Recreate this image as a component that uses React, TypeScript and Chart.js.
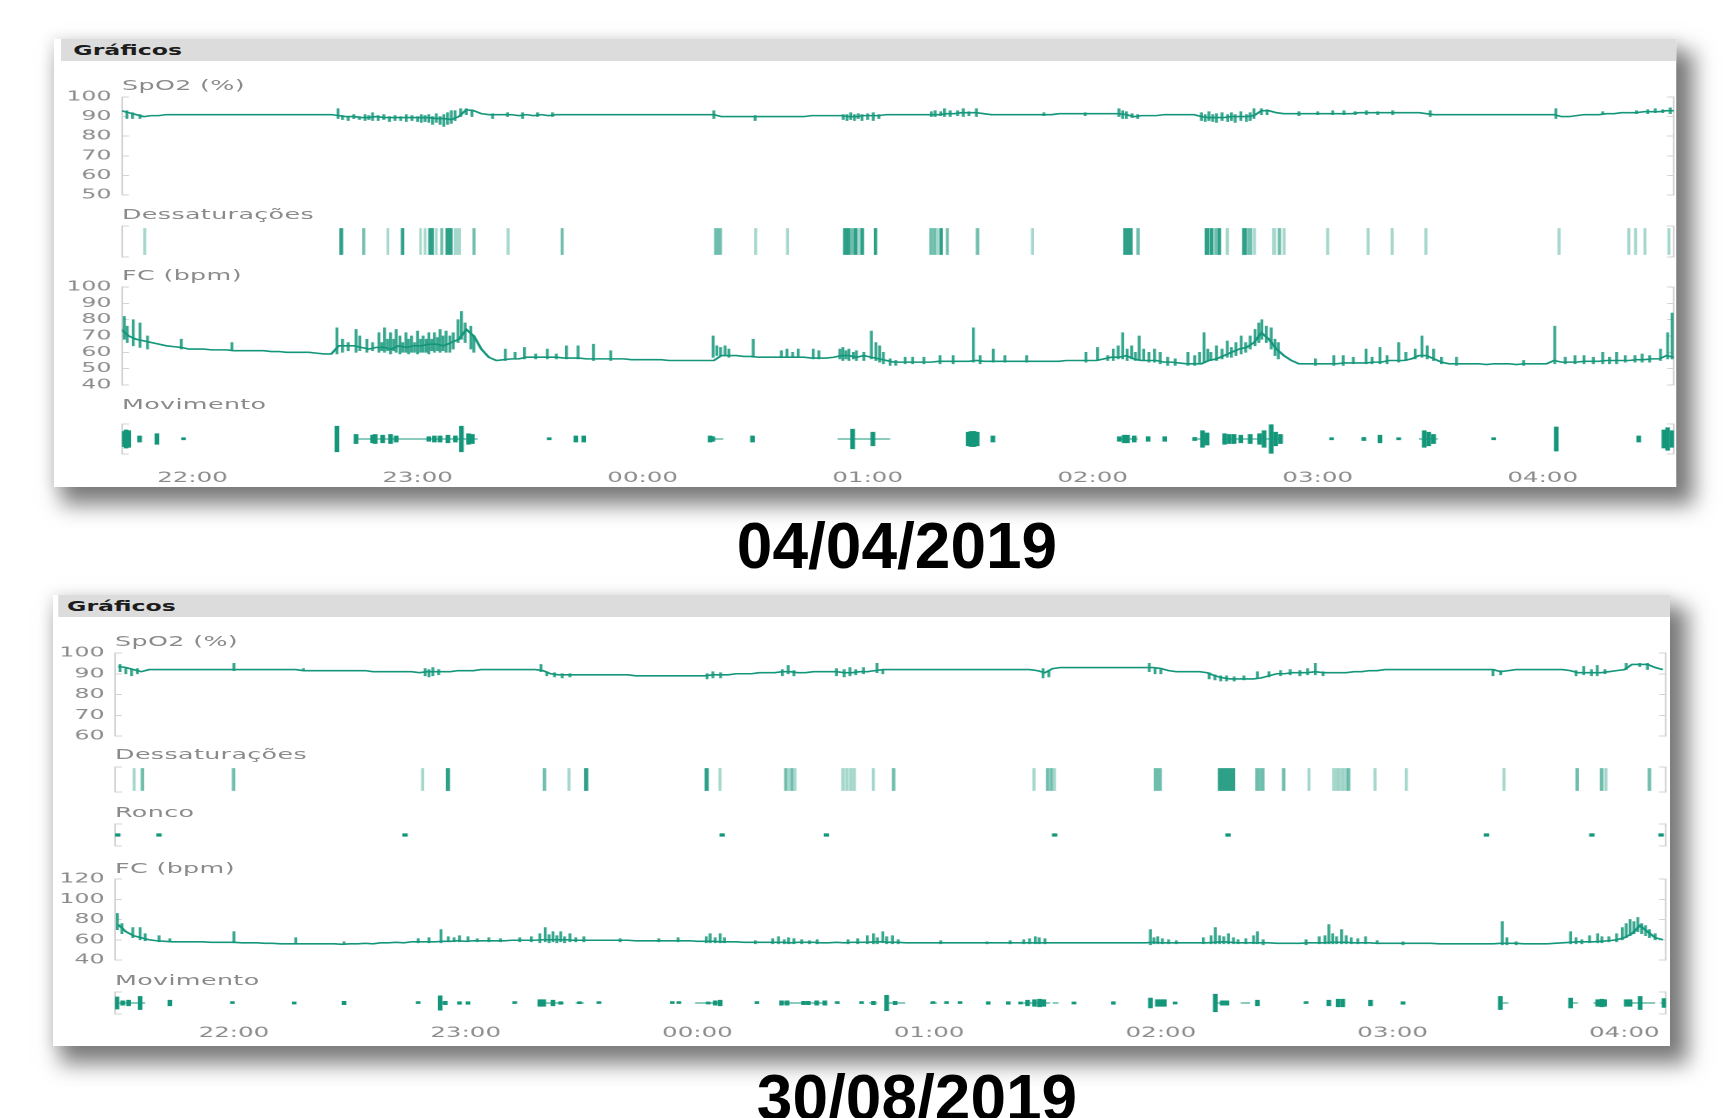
import React, { useEffect, useRef } from "react";
import { Chart, registerables } from "chart.js";

Chart.register(...registerables);

// ---------------- DATA (time = minutes after 21:00) ----------------
const TICK_MIN = [60, 120, 180, 240, 300, 360, 420];
const TICK_LABELS = ["22:00", "23:00", "00:00", "01:00", "02:00", "03:00", "04:00"];

// ===== Night 1 — 04/04/2019 =====
const N1_RANGE = [41.2, 455];
const N1_SAMPLE_T0 = 41;
const N1_SAMPLE_STEP = 2;
// baseline trace, one value every 2 min
const N1_SPO2 = [
  93, 92, 91, 90, 90.5, 90.5, 91, 91, 91, 91,
  91, 91, 91, 91, 91, 91, 91, 91, 91, 91,
  91, 91, 91, 91, 91, 91, 91, 91, 91, 90.5,
  90, 90, 89.5, 89.5, 90, 89.5, 89.5, 89.5, 89.5, 89.5,
  89.5, 89.5, 89, 89, 88.5, 90, 93.5, 93, 91.5, 91,
  91, 91, 91, 90.5, 91, 90.5, 91, 90.5, 91, 91,
  91, 91, 91, 91, 91, 91, 91, 91, 91, 91,
  91, 91, 91, 91, 91, 91, 91, 91, 91, 91,
  90, 90, 90, 90, 90, 90, 90, 90, 90, 90,
  90, 90, 90.5, 90.5, 90.5, 90.5, 90.5, 90, 90, 90.5,
  90.5, 90.5, 91, 91, 91, 91, 91, 91, 91, 91,
  91.5, 91.5, 92, 92, 92, 91.5, 91, 91, 91, 91,
  91, 91, 91, 91, 91, 91.5, 91.5, 91.5, 91.5, 91.5,
  91.5, 91.5, 91.5, 91.5, 91, 90, 90.5, 90.5, 90.5, 91,
  91, 91, 91, 91, 90, 89.5, 89.5, 89.5, 90, 90,
  90, 90.5, 93, 93, 92, 91.5, 91.5, 91.5, 91.5, 91.5,
  91.5, 91.5, 91.5, 91.5, 91.5, 92, 92, 92, 92, 92,
  92, 92, 92, 92, 91.5, 91, 91, 91, 91, 91,
  91, 91, 91, 91, 91, 91, 91, 91, 91, 91,
  91, 91, 90, 90, 90.5, 91, 91, 91, 91.5, 91.5,
  92, 92, 92, 92.5, 92.5, 92.5, 93, 93,
];
// short excursions of the trace: [minute, low, high]
const N1_SPO2_SPIKES = [
  [42.5, 89, 93], [44.0, 89, 92], [46.0, 89, 91],
  [98.8, 89, 94], [100.0, 88.5, 90.5], [101.5, 88, 90], [103.0, 89, 91], [104.5, 88.5, 90], [106.0, 88, 91],
  [107.0, 88.5, 90.5], [108.0, 88, 92], [109.5, 88, 90.5], [111.0, 88.5, 91], [112.5, 87.5, 90], [114.0, 88, 90.5],
  [115.5, 88, 90], [117.0, 87.5, 91], [118.5, 88, 90.5], [120.0, 87.5, 90], [121.0, 87, 91], [122.0, 87.5, 90.5],
  [123.0, 87, 91], [124.0, 86, 90], [125.0, 87, 91.5], [126.0, 86, 90], [127.0, 85, 91], [128.0, 86, 92],
  [129.0, 86.5, 93], [130.0, 88, 93], [131.5, 90, 94], [133.0, 91, 94], [134.5, 90, 93.5],
  [140.0, 89, 91.5], [144.0, 90, 92], [148.0, 89, 92], [152.0, 90, 92], [156.0, 90, 92],
  [199.0, 89, 93], [210.0, 88, 90.5],
  [233.5, 88.5, 91], [234.5, 88, 91], [235.5, 88.5, 92], [236.5, 88, 91], [237.5, 89, 91.5], [238.5, 88, 91],
  [240.0, 88.5, 91.5], [241.5, 88, 92], [243.0, 89, 91],
  [257.0, 90, 92.5], [258.0, 90, 93], [259.5, 90.5, 92.5], [260.5, 90, 94], [262.0, 90, 93], [264.0, 90.5, 93],
  [265.5, 90, 94], [267.0, 90.5, 92.5], [269.0, 90, 94], [287.0, 90.5, 92], [298.0, 90.5, 92],
  [307.0, 90, 94], [308.0, 89, 93], [309.0, 89, 92.5], [310.5, 89.5, 91.5], [312.0, 89, 91],
  [329.0, 88, 92], [330.0, 87.5, 91], [331.0, 88, 92.5], [332.0, 87.5, 91], [333.0, 87, 91.5], [334.5, 88, 92],
  [336.0, 87.5, 91], [337.0, 88, 92], [338.0, 87, 91], [339.5, 88, 92.5], [341.0, 87.5, 91], [342.0, 88, 92],
  [343.0, 89, 94], [345.0, 91, 94], [346.5, 91, 93.5],
  [355.0, 90.5, 92.5], [360.0, 91, 92.5], [364.0, 91, 93], [367.0, 91, 93], [370.0, 91, 92.5], [373.0, 91, 93],
  [376.0, 91, 92.5], [380.0, 91, 93], [390.0, 90, 93],
  [423.5, 89, 94], [436.0, 91, 92.5], [445.0, 91.5, 93], [448.0, 91.5, 93.5], [450.0, 92, 94], [452.0, 92, 93.5], [454.0, 91.5, 94.5],
];
const N1_FC = [
  74, 70, 68, 67, 66, 65, 64, 63.5, 63, 62,
  62, 62, 61.5, 61.5, 61.5, 61, 61, 61, 61, 61,
  60.5, 60.5, 60, 60, 60, 60, 59.5, 59, 59, 64,
  64, 64, 63, 62, 63, 63, 62, 64, 63, 64,
  64, 65, 65, 64, 66, 68, 74, 70, 62, 57,
  55, 55.5, 56, 56, 57, 57, 57, 57, 57, 56.5,
  56.5, 56.5, 56, 56, 56, 56, 56, 56, 55.5, 55.5,
  55.5, 55.5, 55.5, 55, 55, 55, 55, 55, 55, 55,
  58, 58, 58, 57.5, 57.5, 57, 57, 57, 57, 57,
  57, 57, 56.5, 56.5, 56.5, 57, 58, 58, 57, 58,
  57, 56, 55, 54, 54, 54, 54, 54, 54, 54.5,
  54.5, 54.5, 54.5, 54.5, 55, 54.5, 54.5, 54.5, 54.5, 54.5,
  54.5, 54.5, 54.5, 54.5, 54.5, 54.5, 55, 55, 55, 55,
  55, 56, 57, 57, 58, 56, 55, 55, 55, 54,
  54, 53.5, 53, 53, 53, 55, 56, 58, 60, 62,
  63, 66, 72, 68, 62, 58, 55, 53, 53, 53,
  53, 53, 53, 53.5, 53.5, 53.5, 53.5, 54, 54, 55,
  55, 55, 56, 58, 58, 56, 54, 53, 53, 53,
  53, 53, 52.5, 53, 53, 53, 52.5, 53, 53, 53,
  53, 55, 54, 54, 54, 54.5, 54.5, 54.5, 55, 55,
  55, 55, 55.5, 55.5, 56, 56, 58, 57,
];
const N1_FC_SPIKES = [
  [41.8, 68, 82], [42.6, 66, 76], [44.2, 64, 80], [46.0, 63, 78], [48.0, 62, 70], [57.0, 62, 68], [70.5, 61, 66],
  [98.5, 59, 75], [100.0, 60, 68], [101.5, 61, 66], [103.6, 60, 74], [104.6, 61, 70], [106.5, 60, 68], [108.0, 61, 66],
  [109.7, 60, 72], [110.5, 61, 66], [111.2, 60, 75], [112.0, 61, 68], [112.8, 59, 72], [113.6, 61, 68], [114.3, 60, 74],
  [115.3, 59, 70], [116.1, 60, 66], [116.9, 60, 72], [117.6, 59, 68], [118.4, 60, 70], [119.2, 60, 66], [120.0, 59, 73],
  [120.8, 60, 68], [121.5, 60, 70], [122.3, 60, 68], [123.0, 59, 72], [123.8, 61, 68], [124.5, 60, 72], [125.3, 61, 69],
  [126.0, 60, 74], [126.8, 61, 70], [127.6, 60, 73], [128.6, 60, 70], [129.5, 62, 72], [130.8, 66, 80], [131.7, 68, 85],
  [132.7, 66, 78], [134.2, 62, 76], [135.0, 60, 70],
  [143.4, 55, 62], [146.0, 56, 60], [148.5, 56, 63], [151.5, 56, 59], [154.6, 56, 62], [157.0, 56, 59], [159.7, 56, 64],
  [162.8, 56, 64], [166.9, 55, 65], [171.5, 55, 61],
  [198.8, 57, 70], [199.8, 58, 64], [200.8, 58, 63], [202.0, 58, 64], [203.0, 57, 62], [209.5, 57, 68], [217.0, 57, 61],
  [218.5, 57, 62], [220.0, 57, 60], [221.5, 57, 62], [225.5, 56, 62], [227.0, 56, 61], [232.6, 56, 62], [233.4, 55, 63],
  [234.2, 56, 61], [235.0, 55, 62], [236.2, 56, 60], [237.0, 55, 61], [239.0, 55, 60], [241.0, 56, 73], [242.2, 55, 66],
  [243.2, 54, 64], [244.2, 53, 60], [246.0, 52, 56], [247.5, 52, 55], [250.0, 53, 57], [252.0, 53, 57], [255.0, 53, 57],
  [259.3, 53, 58], [262.8, 53, 58], [268.2, 54, 75], [270.0, 53, 58], [273.5, 54, 62], [276.6, 54, 58], [282.4, 54, 58],
  [298.2, 54, 60], [301.3, 55, 63], [304.0, 55, 58], [305.5, 55, 62], [306.8, 56, 64], [308.0, 56, 72], [309.2, 55, 62],
  [310.4, 56, 64], [311.4, 55, 60], [312.4, 55, 70], [313.6, 55, 62], [315.0, 54, 60], [316.5, 54, 62], [318.0, 53, 60],
  [320.0, 52, 57], [322.0, 52, 56], [325.4, 52, 60], [327.2, 52, 58], [328.5, 53, 60], [329.7, 54, 72], [330.7, 55, 62],
  [331.5, 55, 60], [333.0, 55, 64], [334.5, 56, 62], [335.9, 57, 67], [337.0, 57, 63], [338.2, 58, 66], [339.6, 59, 70],
  [340.8, 60, 66], [342.0, 62, 70], [343.3, 64, 74], [344.3, 66, 78], [345.1, 68, 80], [346.3, 66, 76], [347.6, 62, 75],
  [348.6, 58, 68], [349.5, 56, 66], [359.4, 52, 56], [364.3, 52, 58], [366.8, 52, 58], [369.5, 53, 57], [372.9, 53, 62],
  [374.5, 53, 57], [376.6, 53, 63], [378.5, 53, 58], [381.6, 54, 66], [383.5, 55, 60], [386.0, 56, 62], [387.8, 57, 70],
  [389.2, 56, 64], [390.9, 55, 62], [393.0, 53, 57], [397.0, 52, 57], [414.9, 52, 55], [423.2, 53, 76], [426.0, 53, 57],
  [428.6, 53, 58], [431.0, 53, 58], [433.5, 53, 57], [436.0, 53, 60], [437.8, 53, 57], [439.7, 53, 60], [442.0, 54, 58],
  [444.6, 54, 58], [446.5, 54, 59], [448.5, 54, 58], [451.4, 55, 62], [453.3, 56, 72], [454.5, 56, 84],
];
const N1_DESAT_START = [
  47.0, 99.3, 105.4, 111.9, 115.7, 120.6, 121.8, 123.0, 124.8, 126.2, 127.6, 129.8, 134.8, 143.9, 158.3,
  199.2, 209.9, 218.4, 233.6, 234.6, 235.5, 236.4, 237.4, 238.2, 241.8, 256.6, 257.5, 258.4, 259.3, 261.0,
  269.0, 283.7, 308.3, 311.8, 330.0, 331.4, 332.6, 333.5, 335.6, 340.0, 341.4, 342.9, 348.0, 349.5, 350.8,
  362.4, 373.2, 379.6, 388.6, 424.1, 442.7, 444.5, 447.0, 453.4,
];
const N1_DESAT_DUR = [
  0.5, 0.7, 0.5, 0.4, 0.6, 0.4, 0.4, 1.2, 0.4, 0.5, 1.6, 1.6, 0.5, 0.5, 0.5,
  1.8, 0.5, 0.5, 0.8, 0.6, 0.6, 0.7, 0.5, 0.7, 0.6, 0.6, 0.6, 0.5, 0.6, 0.5,
  0.6, 0.5, 2.2, 0.6, 1.0, 0.7, 0.6, 0.6, 0.6, 1.0, 1.0, 0.5, 0.8, 0.6, 0.5,
  0.5, 0.5, 0.5, 0.5, 0.5, 0.5, 0.5, 0.5, 0.5,
];
const N1_DESAT_DEPTH = [
  1, 3, 2, 1, 3, 1, 1, 3, 1, 2, 3, 1, 2, 1, 2,
  2, 1, 1, 3, 3, 2, 3, 1, 3, 3, 2, 2, 1, 3, 2,
  2, 1, 3, 2, 3, 3, 2, 3, 1, 3, 2, 1, 1, 2, 1,
  1, 1, 1, 1, 1, 1, 1, 1, 1,
];
const N1_MOV_T = [
  41.6, 42.3, 43.0, 45.9, 50.5, 57.6, 98.5, 103.6, 108.0, 108.7, 110.7, 112.8, 114.3,
  123.0, 124.5, 126.0, 128.1, 130.1, 131.7, 133.6, 134.6, 155.1, 162.2, 164.3,
  198.0, 198.7, 209.3, 236.0, 241.4, 266.8, 267.6, 268.4, 269.2, 273.4,
  307.1, 308.4, 309.3, 311.1, 314.8, 319.2, 327.2, 329.3, 330.5,
  335.2, 336.4, 337.7, 339.5, 342.0, 344.5, 345.7, 347.6, 348.8, 350.1,
  363.7, 372.3, 376.6, 381.6, 388.4, 389.6, 390.9, 406.9, 423.6, 445.6, 452.3, 453.3, 454.5,
];
const N1_MOV_A = [
  0.5, 0.6, 0.55, 0.2, 0.35, 0.05, 0.85, 0.3, 0.25, 0.3, 0.25, 0.3, 0.2,
  0.15, 0.2, 0.2, 0.25, 0.2, 0.85, 0.35, 0.3, 0.05, 0.2, 0.2,
  0.2, 0.15, 0.2, 0.65, 0.45, 0.45, 0.5, 0.5, 0.45, 0.2,
  0.15, 0.25, 0.25, 0.2, 0.15, 0.15, 0.1, 0.55, 0.4,
  0.35, 0.3, 0.3, 0.25, 0.3, 0.35, 0.55, 0.95, 0.45, 0.3,
  0.05, 0.1, 0.25, 0.05, 0.55, 0.45, 0.3, 0.05, 0.8, 0.2, 0.6, 0.75, 0.55,
];
const N1_MOV_LINK_FROM = [103.5, 198.0, 232.0, 307.0, 327.2, 334.6, 387.0];
const N1_MOV_LINK_TO = [136.0, 201.5, 246.0, 312.0, 331.0, 350.1, 392.0];

// ===== Night 2 — 30/08/2019 =====
const N2_RANGE = [29.2, 430.8];
const N2_SAMPLE_T0 = 30;
const N2_SAMPLE_STEP = 2;
const N2_SPO2 = [
  93.5, 93, 92, 91, 92, 92, 92, 92, 92, 92,
  92, 92, 92, 92, 92, 92, 92, 92, 92, 92,
  92, 92, 92, 92, 91.5, 91.5, 91.5, 91.5, 91.5, 91.5,
  91.5, 91.5, 91.5, 91, 91, 91, 91, 91, 91, 90.5,
  91, 91, 91, 91, 91.5, 91.5, 91.5, 92, 92, 92,
  92, 92, 92, 92, 92, 91.5, 90, 89.5, 89.5, 89.5,
  89.5, 89.5, 89.5, 89.5, 89.5, 89.5, 89.5, 89, 89, 89,
  89, 89, 89, 89, 89, 89, 89, 89.5, 89.5, 89.5,
  90, 90, 90, 90.5, 90.5, 90.5, 91, 91, 90.5, 90.5,
  91, 91, 91, 91, 90.5, 90.5, 91, 91, 91.5, 92,
  92, 92, 92, 92, 92, 92, 92, 92, 92, 92,
  92, 92, 92, 92, 92, 92, 92, 92, 92, 91.5,
  90.5, 92.5, 93, 93, 93, 93, 93, 93, 93, 93,
  93, 93, 93, 93, 93, 92.5, 91.5, 91, 91, 91,
  91, 90.5, 89, 88, 87.5, 87.5, 87.5, 87.5, 88, 89,
  90, 90, 90.5, 90.5, 90.5, 91, 90.5, 90.5, 90.5, 90.5,
  91, 91, 91.5, 91.5, 92, 92, 92, 92, 92, 92,
  92, 92, 92, 92, 92, 92, 92, 92, 92, 91,
  91.5, 92, 92, 92, 92, 92, 92, 92, 91.5, 90.5,
  90.5, 90.5, 90.5, 91, 91.5, 92, 94.5, 94.5, 94.5, 93,
  92,
];
const N2_SPO2_SPIKES = [
  [30.5, 91, 94.5], [32.0, 90, 93], [33.5, 89, 92], [35.0, 90, 92.5], [60.0, 91.5, 95], [78.0, 91.5, 92.5],
  [109.5, 89, 92.5], [110.5, 88.5, 92], [111.5, 89, 93], [113.0, 89.5, 92],
  [139.5, 91, 94.5], [141.0, 89, 91], [143.0, 88.5, 90.5], [145.0, 88, 90], [147.0, 88.5, 90],
  [182.5, 87.5, 90], [184.0, 88, 91], [186.0, 88, 90.5], [202.0, 89, 92], [203.5, 90, 94], [205.0, 89, 91.5],
  [216.0, 89, 92.5], [218.0, 88.5, 92], [219.5, 89, 93], [221.0, 89.5, 92], [223.0, 90, 93], [226.5, 90.5, 95], [228.0, 90, 92],
  [269.5, 88, 92.5], [271.0, 88.5, 91.5], [297.0, 91, 95], [298.5, 90, 92.5], [300.0, 90, 92],
  [312.5, 87.5, 90.5], [314.0, 87, 89.5], [315.5, 86.5, 89], [317.0, 86.5, 89], [319.0, 86.5, 88.5], [321.5, 87, 89],
  [325.0, 88, 91], [328.0, 88.5, 91], [331.0, 89, 91.5], [333.5, 89.5, 92], [336.0, 89, 91.5], [338.0, 89.5, 92.5],
  [340.0, 89.5, 95], [342.0, 89, 91], [386.0, 89, 91.5], [388.0, 89.5, 91.5],
  [407.5, 89, 91.5], [409.5, 89.5, 93.5], [411.5, 89, 92], [413.0, 89, 94], [415.0, 90, 92],
  [420.5, 92, 95], [424.0, 93.5, 95], [426.0, 92, 95],
];
const N2_FC = [
  75, 68, 64, 62, 60, 59, 58.5, 58, 58, 58,
  58, 58, 57.5, 57.5, 57.5, 57.5, 57, 57, 57, 56.5,
  56.5, 56, 56, 56, 56, 56, 56, 56, 56, 55.5,
  56, 56, 56.5, 56, 57, 57, 57.5, 57, 58, 58,
  58, 58, 58.5, 58.5, 59, 58.5, 59, 59, 59, 59,
  59, 59.5, 59.5, 59.5, 59.5, 60, 60, 60, 60, 59.5,
  59.5, 59.5, 59.5, 59.5, 59.5, 59.5, 59.5, 59, 59, 59,
  59, 59, 59, 59, 59, 58.5, 58.5, 58.5, 58, 58,
  58, 57.5, 57.5, 57.5, 57.5, 57.5, 57.5, 57, 57.5, 57.5,
  57.5, 57, 57, 57.5, 57, 57.5, 57.5, 57.5, 58, 58,
  57.5, 57.5, 57, 57, 57, 57, 57, 57, 57, 57,
  57, 57, 57, 57, 57, 57, 57, 57, 57, 57,
  57, 57, 57, 57, 57, 57, 57, 57, 57, 57,
  57, 57, 57, 57, 57.5, 57, 57, 57, 57, 57,
  57, 57, 57.5, 58, 57.5, 57, 57, 57, 57, 57,
  56.5, 56.5, 56.5, 56.5, 57, 57, 57, 57.5, 57.5, 57.5,
  57, 57, 57, 56.5, 56.5, 56.5, 56.5, 56.5, 56.5, 56.5,
  56.5, 56, 56, 56, 56, 56, 56, 56, 56, 56.5,
  56.5, 56.5, 56, 56, 56, 56, 56.5, 57, 57.5, 58,
  58, 58, 58.5, 59, 60, 62, 66, 74, 68, 62,
  60,
];
const N2_FC_SPIKES = [
  [29.8, 70, 86], [31.0, 66, 76], [33.8, 62, 72], [35.7, 60, 72], [37.0, 59, 66], [40.6, 58, 64], [43.4, 58, 61],
  [60.0, 57, 68], [76.0, 56, 62], [88.5, 56, 58],
  [107.7, 57, 61], [110.5, 57, 62], [113.6, 57, 70], [115.5, 58, 63], [117.0, 58, 62], [118.4, 58, 64], [120.6, 58, 63],
  [123.0, 58, 61], [126.0, 58, 62], [129.0, 58, 61], [134.0, 58, 62], [137.0, 58, 63], [139.2, 57, 66], [140.6, 58, 72],
  [141.6, 57, 65], [142.6, 58, 68], [143.6, 57, 64], [144.6, 58, 68], [145.6, 57, 63], [147.0, 58, 66], [148.5, 58, 62],
  [150.6, 58, 63], [160.0, 58, 61], [170.0, 58, 61], [175.0, 58, 62],
  [182.3, 57, 63], [183.3, 57, 66], [184.6, 57, 62], [185.9, 57, 66], [187.0, 57, 62],
  [195.0, 56, 59], [199.5, 56, 61], [201.0, 56, 63], [202.5, 56, 60], [203.6, 56, 62], [205.0, 56, 61], [207.0, 56, 60],
  [209.0, 56, 59], [211.0, 56, 60], [219.0, 56, 60], [221.5, 56, 61], [224.0, 56, 64], [225.6, 56, 66], [226.6, 56, 62],
  [228.0, 57, 68], [229.0, 56, 63], [230.5, 56, 64], [232.0, 56, 60], [243.0, 56, 59], [255.0, 56, 58], [261.0, 56, 59],
  [264.5, 56, 60], [266.0, 56, 61], [267.5, 56, 63], [268.5, 56, 62], [270.0, 56, 61],
  [297.3, 55, 70], [298.2, 56, 62], [299.2, 56, 63], [300.4, 56, 61], [302.0, 56, 60], [304.0, 56, 59],
  [311.0, 56, 62], [313.0, 56, 64], [314.1, 56, 72], [315.2, 56, 64], [316.3, 56, 63], [317.5, 56, 66], [318.8, 56, 62],
  [320.0, 56, 60], [322.0, 56, 61], [324.0, 56, 64], [325.0, 56, 68], [326.5, 55, 60],
  [337.6, 55, 60], [341.0, 56, 63], [342.5, 56, 64], [343.5, 56, 75], [344.5, 56, 66], [345.5, 56, 63], [346.8, 56, 70],
  [348.0, 56, 64], [349.3, 56, 62], [351.0, 56, 61], [353.0, 56, 63], [356.0, 56, 59], [362.7, 55, 58],
  [388.4, 55, 78], [389.6, 55, 62], [392.0, 55, 58],
  [406.1, 56, 68], [407.5, 56, 62], [409.0, 56, 60], [411.0, 57, 64], [413.1, 57, 66], [414.2, 57, 63], [416.0, 58, 63],
  [418.0, 58, 66], [419.5, 60, 72], [420.5, 62, 76], [421.5, 64, 80], [422.5, 66, 78], [423.5, 68, 82], [424.5, 66, 76],
  [425.5, 64, 74], [426.5, 62, 70], [428.0, 60, 66],
];
const N2_DESAT_START = [
  33.9, 36.0, 59.6, 108.6, 115.0, 140.1, 146.5, 150.8, 182.0, 185.6,
  202.6, 203.4, 204.2, 205.0, 217.4, 218.4, 219.4, 220.3, 225.3, 230.5,
  266.9, 270.4, 271.4, 272.2, 298.3, 314.9, 324.6, 325.9, 331.5, 338.1,
  344.5, 345.9, 347.2, 348.3, 355.2, 363.3, 388.6, 407.5, 413.8, 415.0, 426.2,
];
const N2_DESAT_DUR = [
  0.5, 0.6, 0.6, 0.5, 0.8, 0.6, 0.5, 0.8, 0.8, 0.5,
  0.5, 0.5, 0.5, 0.5, 0.6, 0.6, 0.6, 0.6, 0.5, 0.6,
  0.5, 0.6, 0.5, 0.5, 1.8, 4.2, 1.0, 0.8, 0.6, 0.5,
  1.2, 1.1, 1.0, 0.6, 0.5, 0.5, 0.5, 0.6, 0.7, 0.5, 0.6,
];
const N2_DESAT_DEPTH = [
  1, 2, 2, 1, 3, 2, 1, 3, 3, 1,
  2, 1, 2, 1, 1, 1, 1, 1, 1, 2,
  1, 2, 2, 1, 2, 3, 2, 2, 2, 1,
  1, 1, 1, 2, 1, 1, 1, 2, 2, 1, 2,
];
const N2_RONCO_T = [29.9, 40.6, 104.3, 186.4, 213.4, 272.5, 317.4, 384.3, 411.6, 429.5];
const N2_RONCO_A = [0.12, 0.12, 0.12, 0.12, 0.12, 0.12, 0.12, 0.12, 0.12, 0.12];
const N2_MOV_T = [
  29.7, 31.2, 32.7, 35.7, 43.4, 59.6, 75.6, 88.5, 107.7, 113.4,
  114.7, 118.4, 120.6, 132.7, 139.2, 140.2, 142.6, 144.6, 149.5, 154.5,
  173.5, 175.2, 182.8, 184.6, 185.9, 195.4, 201.8, 203.2, 207.5, 208.7,
  210.9, 213.0, 216.2, 222.5, 225.6, 229.0, 231.2, 241.0, 244.5, 248.0,
  255.3, 260.5, 263.7, 265.5, 267.3, 268.6, 269.7, 277.5, 287.7, 297.3,
  299.1, 300.1, 300.9, 303.7, 314.1, 315.9, 317.1, 325.0, 337.6, 343.5,
  345.9, 347.1, 354.3, 362.7, 387.9, 406.1, 413.1, 414.2, 414.9, 420.5,
  421.5, 424.1, 430.3,
];
const N2_MOV_A = [
  0.55, 0.2, 0.25, 0.6, 0.25, 0.05, 0.1, 0.15, 0.05, 0.65,
  0.15, 0.12, 0.12, 0.05, 0.3, 0.3, 0.25, 0.12, 0.06, 0.05,
  0.05, 0.05, 0.1, 0.2, 0.25, 0.05, 0.2, 0.2, 0.15, 0.15,
  0.2, 0.2, 0.05, 0.05, 0.15, 0.7, 0.15, 0.05, 0.05, 0.05,
  0.12, 0.12, 0.1, 0.25, 0.3, 0.35, 0.3, 0.1, 0.12, 0.45,
  0.3, 0.3, 0.3, 0.1, 0.8, 0.2, 0.2, 0.25, 0.05, 0.25,
  0.35, 0.35, 0.25, 0.12, 0.6, 0.45, 0.3, 0.35, 0.3, 0.3,
  0.3, 0.6, 0.4,
];
const N2_MOV_LINK_FROM = [29.5, 113.4, 139.2, 148.5, 179.4, 201.8, 224.5, 229.0, 240.2, 264.4, 272.0, 314.1, 320.7, 387.9, 406.1, 412.0, 420.5, 429.5];
const N2_MOV_LINK_TO = [37.0, 115.0, 145.4, 150.6, 186.0, 213.5, 226.5, 233.8, 242.0, 271.3, 273.5, 317.5, 323.1, 390.0, 408.0, 415.5, 428.0, 430.8];

// ---------------- STYLE / LAYOUT ----------------
const STRETCH = 1.75; // the report screenshot is stretched horizontally
const TEAL = "#14967a";
const SPIKE_TEAL = "rgba(20,150,122,0.85)";
const AXIS_GRAY = "#d3d3d3";
const TEXT_GRAY = "#8a8a8a";
const FONT = "'DejaVu Sans', 'Noto Sans', sans-serif";
const TICK_FONT = { family: FONT, size: 13.5 };
const X_FONT = { family: FONT, size: 14 };
const PAD = 22;
const DEPTH_COLOR = ["", "rgba(22,150,122,0.38)", "rgba(22,150,122,0.62)", "rgba(22,150,122,0.9)"];

type Geo = { w: number; axisX: number; plotRight: number; xMin: number; xMax: number };
type Row = { top: number; height: number; make: () => any };

function yLeft(g: Geo, min: number, max: number, step: number, labels: boolean) {
  return {
    type: "linear", position: "left", min, max, offset: false,
    afterFit: (s: any) => { s.width = g.axisX; },
    border: { display: true, color: AXIS_GRAY, width: 1 },
    grid: { display: true, drawOnChartArea: false, drawTicks: true, tickLength: -4, color: AXIS_GRAY, lineWidth: 1, offset: false },
    ticks: { display: labels, autoSkip: false, stepSize: step, padding: 10, color: TEXT_GRAY, font: TICK_FONT },
  };
}
function yRight(g: Geo, min: number, max: number, step: number) {
  return {
    type: "linear", position: "right", min, max, offset: false,
    afterFit: (s: any) => { s.width = g.w - g.plotRight; },
    border: { display: true, color: AXIS_GRAY, width: 1 },
    grid: { display: true, drawOnChartArea: false, drawTicks: true, tickLength: -4, color: AXIS_GRAY, lineWidth: 1, offset: false },
    ticks: { display: false, autoSkip: false, stepSize: step },
  };
}
function xHidden(g: Geo) {
  return { type: "linear", min: g.xMin, max: g.xMax, offset: false, display: false };
}
function xTime(g: Geo, gap: number) {
  return {
    type: "linear", position: "bottom", min: g.xMin, max: g.xMax, offset: false,
    afterBuildTicks: (s: any) => { s.ticks = TICK_MIN.map((v) => ({ value: v })); },
    afterFit: (s: any) => { s.height = gap + 20; },
    grid: { display: false, drawTicks: true, tickLength: gap - 6 },
    border: { display: false },
    ticks: {
      autoSkip: false, maxRotation: 0, minRotation: 0, padding: 0,
      color: TEXT_GRAY, font: X_FONT,
      callback: (_v: any, i: number) => TICK_LABELS[i],
    },
  };
}
function baseOpts(scales: any, padBottom: number, indexAxis = "x") {
  return {
    indexAxis, responsive: false, maintainAspectRatio: false, animation: false,
    devicePixelRatio: 2, events: [],
    layout: { padding: { top: PAD, bottom: padBottom, left: 0, right: 0 } },
    plugins: { legend: { display: false }, tooltip: { enabled: false }, title: { display: false } },
    scales,
  };
}

function lineRow(g: Geo, top: number, bottom: number, values: number[], t0: number, step: number,
  spikes: number[][], min: number, max: number, tickStep: number): Row {
  return {
    top: top - PAD, height: bottom - top + 2 * PAD,
    make: () => ({
      type: "line",
      data: {
        datasets: [
          {
            type: "line",
            data: values.map((v, i) => ({ x: t0 + i * step, y: v })),
            borderColor: TEAL, borderWidth: 1.6, pointRadius: 0, tension: 0, fill: false,
          },
          {
            type: "bar",
            data: spikes.map((s) => ({ x: s[0], y: [s[1], s[2]] })),
            backgroundColor: SPIKE_TEAL, borderWidth: 0, barThickness: 1, grouped: false,
          },
        ],
      },
      options: baseOpts({ x: xHidden(g), y: yLeft(g, min, max, tickStep, true), y2: yRight(g, min, max, tickStep) }, PAD),
    }),
  };
}
function eventRow(g: Geo, top: number, bottom: number, starts: number[], durs: number[], depths: number[], thick: number): Row {
  return {
    top: top - PAD, height: bottom - top + 2 * PAD,
    make: () => ({
      type: "bar",
      data: {
        datasets: [{
          data: starts.map((s, i) => ({ x: [s, s + durs[i]], y: 0.5 })),
          backgroundColor: depths.map((d) => DEPTH_COLOR[d]),
          borderWidth: 0, barThickness: thick, grouped: false,
        }],
      },
      options: baseOpts({ x: xHidden(g), y: yLeft(g, 0, 1, 1, false), y2: yRight(g, 0, 1, 1) }, PAD, "y"),
    }),
  };
}
function markRow(g: Geo, top: number, bottom: number, times: number[], amps: number[],
  linkFrom: number[], linkTo: number[], barW: number, labelGap: number): Row {
  return {
    top: top - PAD,
    height: bottom - top + PAD + (labelGap ? labelGap + 20 : PAD),
    make: () => {
      const link: any[] = [];
      linkFrom.forEach((s, i) => {
        link.push({ x: s, y: 0 }, { x: linkTo[i], y: 0 }, { x: linkTo[i], y: null });
      });
      return {
        type: "bar",
        data: {
          datasets: [
            {
              type: "bar",
              data: times.map((t, i) => ({ x: t, y: [-amps[i], amps[i]] })),
              backgroundColor: TEAL, borderWidth: 0, barThickness: barW, grouped: false, minBarLength: 2,
            },
            {
              type: "line", data: link, borderColor: TEAL, borderWidth: 1.1,
              pointRadius: 0, spanGaps: false, tension: 0,
            },
          ],
        },
        options: baseOpts(
          { x: labelGap ? xTime(g, labelGap) : xHidden(g), y: yLeft(g, -1, 1, 2, false), y2: yRight(g, -1, 1, 2) },
          labelGap ? 0 : PAD,
        ),
      };
    },
  };
}

function ChartCanvas({ top, width, height, make }: { top: number; width: number; height: number; make: () => any }) {
  const ref = useRef<HTMLCanvasElement | null>(null);
  useEffect(() => {
    const chart = new Chart(ref.current as HTMLCanvasElement, make());
    return () => chart.destroy();
  }, []);
  return (
    <canvas
      ref={ref}
      width={width}
      height={height}
      style={{ position: "absolute", left: 0, top, width, height }}
    />
  );
}

function Panel({ left, top, g, height, headerInset, headerText, titles, rows }: {
  left: number; top: number; g: Geo; height: number; headerInset: number; headerText: number;
  titles: [string, number][]; rows: Row[];
}) {
  return (
    <div
      style={{
        position: "absolute", left, top, width: g.w, height,
        transform: `scaleX(${STRETCH})`, transformOrigin: "0 0",
        background: "#ffffff",
        boxShadow: "0 0 10px 3px rgba(0,0,0,0.07), 7px 15px 15px 3px rgba(0,0,0,0.5)",
      }}
    >
      <div style={{ position: "absolute", left: headerInset, right: 0, top: 0, height: 22, background: "#dcdcdc" }} />
      <div
        style={{
          position: "absolute", left: headerText, top: 0, height: 22, lineHeight: "22px",
          fontFamily: FONT, fontWeight: 700, fontSize: 13.5, color: "#1c1c1c", whiteSpace: "nowrap",
        }}
      >
        Gráficos
      </div>
      {rows.map((r, i) => (
        <ChartCanvas key={i} top={r.top} width={g.w} height={r.height} make={r.make} />
      ))}
      {titles.map(([t, cy], i) => (
        <div
          key={"t" + i}
          style={{
            position: "absolute", left: g.axisX, top: cy - 9, height: 18, lineHeight: "18px",
            fontFamily: FONT, fontSize: 14.5, letterSpacing: 0.2, color: TEXT_GRAY, whiteSpace: "nowrap",
          }}
        >
          {t}
        </div>
      ))}
    </div>
  );
}

const G1: Geo = { w: 927, axisX: 68 / STRETCH, plotRight: 1620 / STRETCH, xMin: N1_RANGE[0], xMax: N1_RANGE[1] };
const G2: Geo = { w: 924, axisX: 62 / STRETCH, plotRight: 1613 / STRETCH, xMin: N2_RANGE[0], xMax: N2_RANGE[1] };

const ROWS1: Row[] = [
  lineRow(G1, 58, 156, N1_SPO2, N1_SAMPLE_T0, N1_SAMPLE_STEP, N1_SPO2_SPIKES, 50, 100, 10),
  eventRow(G1, 187, 218, N1_DESAT_START, N1_DESAT_DUR, N1_DESAT_DEPTH, 26),
  lineRow(G1, 248, 346, N1_FC, N1_SAMPLE_T0, N1_SAMPLE_STEP, N1_FC_SPIKES, 40, 100, 10),
  markRow(G1, 385, 415, N1_MOV_T, N1_MOV_A, N1_MOV_LINK_FROM, N1_MOV_LINK_TO, 2, 22),
];
const TITLES1: [string, number][] = [["SpO2 (%)", 46], ["Dessaturações", 175], ["FC (bpm)", 236], ["Movimento", 365]];

const ROWS2: Row[] = [
  lineRow(G2, 58, 141, N2_SPO2, N2_SAMPLE_T0, N2_SAMPLE_STEP, N2_SPO2_SPIKES, 60, 100, 10),
  eventRow(G2, 172, 197, N2_DESAT_START, N2_DESAT_DUR, N2_DESAT_DEPTH, 22),
  markRow(G2, 229, 251, N2_RONCO_T, N2_RONCO_A, [], [], 2.4, 0),
  lineRow(G2, 284, 365, N2_FC, N2_SAMPLE_T0, N2_SAMPLE_STEP, N2_FC_SPIKES, 40, 120, 20),
  markRow(G2, 397, 419, N2_MOV_T, N2_MOV_A, N2_MOV_LINK_FROM, N2_MOV_LINK_TO, 2, 17),
];
const TITLES2: [string, number][] = [["SpO2 (%)", 46], ["Dessaturações", 159], ["Ronco", 217], ["FC (bpm)", 273], ["Movimento", 385]];

const dateStyle: React.CSSProperties = {
  position: "absolute", transform: "translateX(-50%)", whiteSpace: "nowrap",
  fontFamily: "'Liberation Sans', Arial, sans-serif", fontWeight: 700, fontSize: 64,
  lineHeight: "64px", color: "#000",
};

export default function App() {
  return (
    <div style={{ position: "fixed", left: 0, top: 0, width: 1727, height: 1118, overflow: "hidden", background: "#ffffff" }}>
      <Panel left={54} top={39} g={G1} height={448} headerInset={4} headerText={11} titles={TITLES1} rows={ROWS1} />
      <div style={{ ...dateStyle, left: 897, top: 514 }}>04/04/2019</div>
      <Panel left={53} top={595} g={G2} height={451} headerInset={3} headerText={8} titles={TITLES2} rows={ROWS2} />
      <div style={{ ...dateStyle, left: 917, top: 1066 }}>30/08/2019</div>
    </div>
  );
}
